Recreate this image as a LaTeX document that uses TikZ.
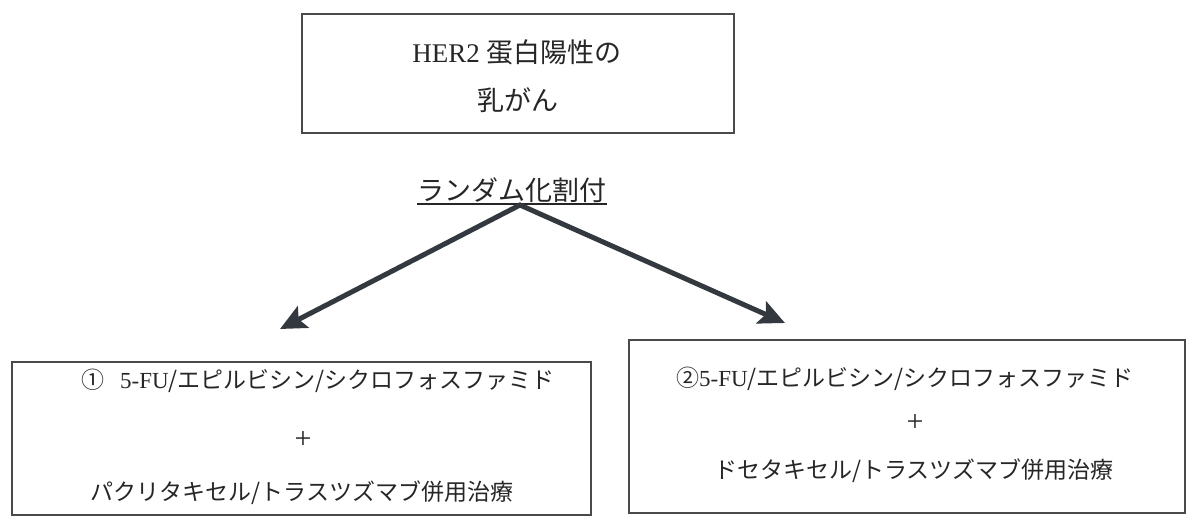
\documentclass[tikz,border=0pt]{standalone}
\usepackage{fontspec}
\setmainfont{Liberation Serif}
\newfontfamily\jp{Noto Sans CJK JP}
\usetikzlibrary{arrows.meta}
\definecolor{ink}{HTML}{262626}
\definecolor{edge}{HTML}{4A4A4A}
\definecolor{arrowc}{HTML}{33393F}
\begin{document}
\begin{tikzpicture}[x=1pt,y=-1pt,
  box/.style={draw=edge,line width=1.8pt,inner sep=0pt,anchor=center},
  lbl/.style={text=ink,inner sep=0pt,anchor=center},
  big/.style={font=\fontsize{27}{30}\selectfont},
  small/.style={font=\fontsize{23}{27}\selectfont},
  plus/.style={font=\fontsize{30}{30}\selectfont},
  uline/.style={draw=ink,line width=1.2pt},
  arr/.style={draw=arrowc,line width=5pt,line join=miter,
    {Stealth[length=26pt,width=24pt,inset=5pt]}-{Stealth[length=26pt,width=24pt,inset=5pt]}}]
\useasboundingbox (0,0) rectangle (1187,517);
% boxes
\node[box,minimum width=432pt,minimum height=119pt] (her) at (518,73.5) {};
\node[box,minimum width=579pt,minimum height=153pt] (lbox) at (301.5,438.5) {};
\node[box,minimum width=556pt,minimum height=173pt] (rbox) at (907,426.5) {};
% top texts
\node[lbl,big] (her1) at (517,52) {HER2 {\jp 蛋白陽性の}};
\node[lbl,big] (her2) at (518,100) {\jp 乳がん};
\node[lbl,big] (rand) at (512,190) {\jp ランダム化割付};
\coordinate (apex) at (520,205);
\draw[uline] (rand.west |- 0,204) -- (rand.east |- 0,204);
% arrows
\coordinate (ltip) at (280,329);
\coordinate (rtip) at (785,323);
\draw[arr] (ltip) -- (apex) -- (rtip);
% left box texts
\node[lbl,small] (l1) at (318,381) {{\jp ①}\hspace{16pt}5-FU{\jp /エピルビシン/シクロフォスファミド}};
\node[lbl,plus] (lplus) at (303,440) {+};
\node[lbl,small] (l3) at (302,493) {\jp パクリタキセル/トラスツズマブ併用治療};
% right box texts
\node[lbl,small] (r1) at (905,379) {{\jp ②}5-FU{\jp /エピルビシン/シクロフォスファミド}};
\node[lbl,plus] (rplus) at (915,423) {+};
\node[lbl,small] (r3) at (914,471) {\jp ドセタキセル/トラスツズマブ併用治療};
\end{tikzpicture}
\end{document}
